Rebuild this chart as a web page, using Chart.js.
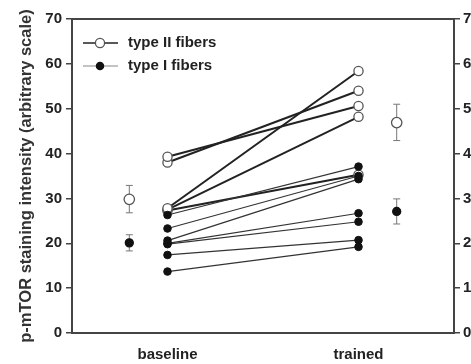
<!DOCTYPE html>
<html>
<head>
<meta charset="utf-8">
<script src="https://cdn.jsdelivr.net/npm/chart.js@4/dist/chart.umd.min.js"></script>
<style>
  body { margin: 0; background: #fff; }
  canvas { display: block; }
</style>
</head>
<body>
<canvas id="chart" width="471" height="364"></canvas>
<script>
// x positions of the two groups and of the group means
var groupX = [1, 3]
var groupLabels = ['baseline', 'trained']
var meanX = [0.6, 3.4]

// individual subjects, baseline -> trained
var typeIIBase = [39.3, 38.0, 27.8, 27.5, 27.3]
var typeIITrained = [50.6, 54.0, 58.4, 48.2, 35.3]
var typeIBase = [26.3, 23.3, 20.6, 20.0, 19.8, 17.4, 13.7]
var typeITrained = [37.1, 35.0, 34.3, 26.7, 24.8, 20.7, 19.2]

// group means with error bars
var typeIIMean = [29.8, 46.9]
var typeIIErrLo = [26.8, 42.9]
var typeIIErrHi = [32.9, 51.0]
var typeIMean = [20.1, 27.1]
var typeIErrLo = [18.3, 24.3]
var typeIErrHi = [21.9, 29.9]

var yTicks = [0, 10, 20, 30, 40, 50, 60, 70]

var FONT = { family: '"Liberation Sans", Arial, sans-serif', size: 15, weight: 'bold' }
var datasets = []

// type I lines (thin, filled dots) -- first = drawn on top
for (var i = 0; i < typeIBase.length; i++) {
  datasets.push({
    data: [{ x: groupX[0], y: typeIBase[i] }, { x: groupX[1], y: typeITrained[i] }],
    borderColor: '#333', borderWidth: 1.2,
    pointRadius: 3.8, pointBackgroundColor: '#111', pointBorderColor: '#111', pointBorderWidth: 1
  })
}
// type II lines (thick, open circles)
for (var j = 0; j < typeIIBase.length; j++) {
  datasets.push({
    data: [{ x: groupX[0], y: typeIIBase[j] }, { x: groupX[1], y: typeIITrained[j] }],
    borderColor: '#222', borderWidth: 2,
    pointRadius: 4.6, pointBackgroundColor: '#fff', pointBorderColor: '#555', pointBorderWidth: 1.3
  })
}
// means + error bars
function addMean(mean, lo, hi, open) {
  for (var k = 0; k < meanX.length; k++) {
    datasets.push({
      data: [{ x: meanX[k], y: mean[k] }],
      showLine: false,
      pointRadius: open ? 5.2 : 4,
      pointBackgroundColor: open ? '#fff' : '#111',
      pointBorderColor: open ? '#555' : '#111',
      pointBorderWidth: 1.3
    })
    datasets.push({
      data: [{ x: meanX[k], y: lo[k] }, { x: meanX[k], y: hi[k] }],
      borderColor: '#777', borderWidth: 1,
      pointStyle: 'line', pointRadius: 3.5, pointBorderColor: '#777', pointBorderWidth: 1
    })
  }
}
addMean(typeIIMean, typeIIErrLo, typeIIErrHi, true)
addMean(typeIMean, typeIErrLo, typeIErrHi, false)

var boxAndLegend = {
  id: 'boxAndLegend',
  afterDraw: function (chart) {
    var ctx = chart.ctx
    var a = chart.chartArea
    ctx.save()
    ctx.strokeStyle = '#444'
    ctx.lineWidth = 2
    ctx.strokeRect(a.left, a.top, a.right - a.left, a.bottom - a.top)

    // legend
    var lx0 = a.left + 11, lx1 = a.left + 46, cx = a.left + 28
    var rows = [
      { y: a.top + 24, text: 'type II fibers', line: '#222', open: true },
      { y: a.top + 47, text: 'type I fibers', line: '#888', open: false }
    ]
    rows.forEach(function (r) {
      ctx.strokeStyle = r.line
      ctx.lineWidth = r.open ? 1.6 : 1.2
      ctx.beginPath(); ctx.moveTo(lx0, r.y); ctx.lineTo(lx1, r.y); ctx.stroke()
      ctx.beginPath()
      ctx.arc(cx, r.y, r.open ? 4.6 : 3.6, 0, Math.PI * 2)
      ctx.fillStyle = r.open ? '#fff' : '#111'
      ctx.fill()
      ctx.lineWidth = 1.3
      ctx.strokeStyle = r.open ? '#555' : '#111'
      ctx.stroke()
      ctx.fillStyle = '#222'
      ctx.font = 'bold 15px "Liberation Sans", Arial, sans-serif'
      ctx.textBaseline = 'middle'
      ctx.fillText(r.text, a.left + 56, r.y)
    })
    ctx.restore()
  }
}

new Chart(document.getElementById('chart'), {
  type: 'line',
  data: { datasets: datasets },
  options: {
    responsive: false,
    animation: false,
    layout: { padding: { top: 19, left: 0, right: 0, bottom: 0 } },
    plugins: { legend: { display: false }, tooltip: { enabled: false } },
    scales: {
      x: {
        type: 'linear', min: 0, max: 4,
        afterFit: function (s) { s.height = 31 },
        afterBuildTicks: function (s) { s.ticks = groupX.map(function (v) { return { value: v } }) },
        grid: { display: false },
        border: { display: false },
        ticks: {
          padding: 5, color: '#222', font: FONT, maxRotation: 0, autoSkip: false,
          callback: function (v) { var i = groupX.indexOf(v); return i < 0 ? '' : groupLabels[i] }
        }
      },
      y: {
        position: 'left', min: 0, max: 70,
        afterFit: function (s) { s.width = 72 },
        afterBuildTicks: function (s) { s.ticks = yTicks.map(function (v) { return { value: v } }) },
        grid: { drawOnChartArea: false, tickLength: 6, color: '#444', lineWidth: 1.5 },
        border: { display: false },
        ticks: { padding: 4, color: '#222', font: FONT },
        title: {
          display: true, text: 'p-mTOR staining intensity (arbitrary scale)',
          color: '#333', font: { family: FONT.family, size: 16.5, weight: 'bold' },
          padding: { top: 17, bottom: 0 }
        }
      },
      y2: {
        position: 'right', min: 0, max: 70,
        afterFit: function (s) { s.width = 17 },
        afterBuildTicks: function (s) { s.ticks = yTicks.map(function (v) { return { value: v } }) },
        grid: { drawOnChartArea: false, tickLength: 6, color: '#444', lineWidth: 1.5 },
        border: { display: false },
        ticks: { padding: 3, color: '#222', font: FONT }
      }
    }
  },
  plugins: [boxAndLegend]
})
</script>
</body>
</html>
